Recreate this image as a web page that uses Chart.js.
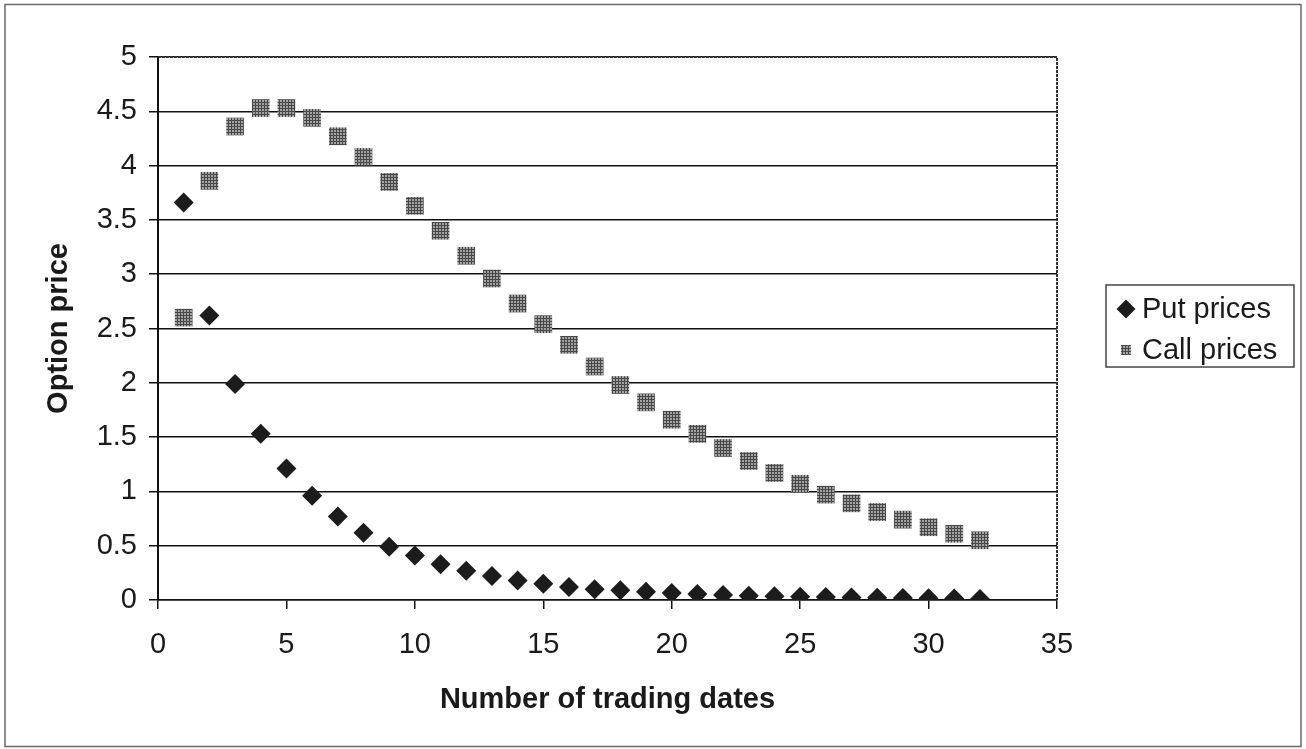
<!DOCTYPE html>
<html>
<head>
<meta charset="utf-8">
<script src="https://cdn.jsdelivr.net/npm/chart.js@4/dist/chart.umd.min.js"></script>
<style>
  html, body { margin: 0; padding: 0; background: #fff; }
  canvas { display: block; }
</style>
</head>
<body>
<canvas id="optionChart" width="1306" height="749"></canvas>
<script>
// trading dates 1..32
const tradingDates = [1, 2, 3, 4, 5, 6, 7, 8, 9, 10, 11, 12, 13, 14, 15, 16,
                      17, 18, 19, 20, 21, 22, 23, 24, 25, 26, 27, 28, 29, 30, 31, 32];

// valores
const putPrices = [3.66, 2.62, 1.99, 1.53, 1.21, 0.96, 0.77, 0.62, 0.49, 0.41, 0.33, 0.27,
                   0.22, 0.18, 0.15, 0.12, 0.10, 0.09, 0.075, 0.065, 0.055, 0.047, 0.04, 0.035,
                   0.03, 0.027, 0.023, 0.02, 0.018, 0.015, 0.013, 0.01];
const callPrices = [2.60, 3.86, 4.36, 4.53, 4.53, 4.44, 4.27, 4.08, 3.85, 3.63, 3.40, 3.17,
                    2.96, 2.73, 2.54, 2.35, 2.15, 1.98, 1.82, 1.66, 1.53, 1.40, 1.28, 1.17,
                    1.07, 0.97, 0.89, 0.81, 0.74, 0.67, 0.61, 0.55];

const xTicks = [0, 5, 10, 15, 20, 25, 30, 35];
const yTicks = ['0', '0.5', '1', '1.5', '2', '2.5', '3', '3.5', '4', '4.5', '5'];

const FONT = "'Liberation Sans', Arial, sans-serif";

// padrão cinza quadriculado para os marcadores das calls
function makeHatch() {
    const c = document.createElement('canvas');
    c.width = 3; c.height = 3;
    const g = c.getContext('2d');
    g.fillStyle = '#a2a2a2';
    g.fillRect(0, 0, 3, 3);
    g.fillStyle = '#484848';
    g.fillRect(0, 0, 3, 1);
    g.fillRect(0, 0, 1, 3);
    return g.createPattern(c, 'repeat');
}
const hatch = makeHatch();

// moldura externa, bordas do gráfico e legenda
const framePlugin = {
    id: 'framePlugin',
    afterDraw(chart) {
        const ctx = chart.ctx;
        const a = chart.chartArea;
        ctx.save();
        // moldura externa
        ctx.strokeStyle = '#6a6a6a';
        ctx.lineWidth = 1.5;
        ctx.strokeRect(5, 4.5, 1296, 742);
        // borda superior e direita pontilhada
        ctx.strokeStyle = '#333';
        ctx.lineWidth = 2;
        ctx.setLineDash([3, 1]);
        ctx.beginPath();
        ctx.moveTo(a.left, a.top);
        ctx.lineTo(a.right, a.top);
        ctx.lineTo(a.right, a.bottom);
        ctx.stroke();
        ctx.setLineDash([]);

        // legenda
        const lx = 1106, ly = 285, lw = 188, lh = 82;
        ctx.strokeStyle = '#444';
        ctx.lineWidth = 1.5;
        ctx.strokeRect(lx, ly, lw, lh);
        ctx.font = '29px ' + FONT;
        ctx.textBaseline = 'middle';
        const ds = chart.data.datasets;
        const rows = [ly + 24, ly + 65];
        ds.forEach((d, i) => {
            ctx.fillStyle = d.pointBackgroundColor;
            Chart.helpers.drawPoint(ctx, {
                pointStyle: d.pointStyle,
                radius: i === 0 ? 9.5 : 7,
                rotation: 0,
                borderWidth: 0
            }, lx + 20, rows[i]);
            ctx.fillStyle = '#1a1a1a';
            ctx.fillText(d.label, lx + 36, rows[i] + 1);
        });
        ctx.restore();
    }
};

const ctx = document.getElementById('optionChart').getContext('2d');
const optionChart = new Chart(ctx, {
    type: 'scatter',
    data: {
        datasets: [
            {
                label: 'Put prices',
                data: tradingDates.map((d, i) => ({ x: d, y: putPrices[i] })),
                pointStyle: 'rectRot',
                pointRadius: 10,
                pointBorderWidth: 0,
                pointBackgroundColor: '#1c1c1c',
                showLine: false
            },
            {
                label: 'Call prices',
                data: tradingDates.map((d, i) => ({ x: d, y: callPrices[i] })),
                pointStyle: 'rect',
                pointRadius: 12.5,
                pointBorderWidth: 0,
                pointBackgroundColor: hatch,
                showLine: false
            }
        ]
    },
    options: {
        responsive: false,
        devicePixelRatio: 1,
        animation: false,
        layout: { padding: { left: 0, top: 57, right: 249, bottom: 0 } },
        plugins: {
            legend: { display: false },
            tooltip: { enabled: false }
        },
        scales: {
            x: {
                type: 'linear',
                min: 0,
                max: 35,
                afterBuildTicks: scale => { scale.ticks = xTicks.map(v => ({ value: v })); },
                afterFit: scale => { scale.height = 149; },
                ticks: {
                    font: { family: FONT, size: 29 },
                    color: '#1a1a1a',
                    padding: 19,
                    maxRotation: 0
                },
                grid: {
                    drawOnChartArea: false,
                    drawTicks: true,
                    tickLength: 9,
                    color: '#111',
                    lineWidth: 1.5
                },
                border: { display: true, color: '#111', width: 1.5 },
                title: {
                    display: true,
                    text: 'Number of trading dates',
                    font: { family: FONT, size: 29, weight: 'bold' },
                    color: '#1a1a1a',
                    padding: { top: 0, bottom: 32 }
                }
            },
            y: {
                min: 0,
                max: 5,
                afterBuildTicks: scale => { scale.ticks = yTicks.map(v => ({ value: parseFloat(v) })); },
                afterFit: scale => { scale.width = 158; },
                ticks: {
                    font: { family: FONT, size: 29 },
                    color: '#1a1a1a',
                    padding: 12,
                    callback: (v, i) => yTicks[i]
                },
                grid: {
                    color: '#111',
                    lineWidth: 1.5,
                    tickLength: 9
                },
                border: { display: true, color: '#111', width: 2 },
                title: {
                    display: true,
                    text: 'Option price',
                    font: { family: FONT, size: 29, weight: 'bold' },
                    color: '#1a1a1a',
                    padding: { top: 42, bottom: 0 }
                }
            }
        }
    },
    plugins: [framePlugin]
});
</script>
</body>
</html>
